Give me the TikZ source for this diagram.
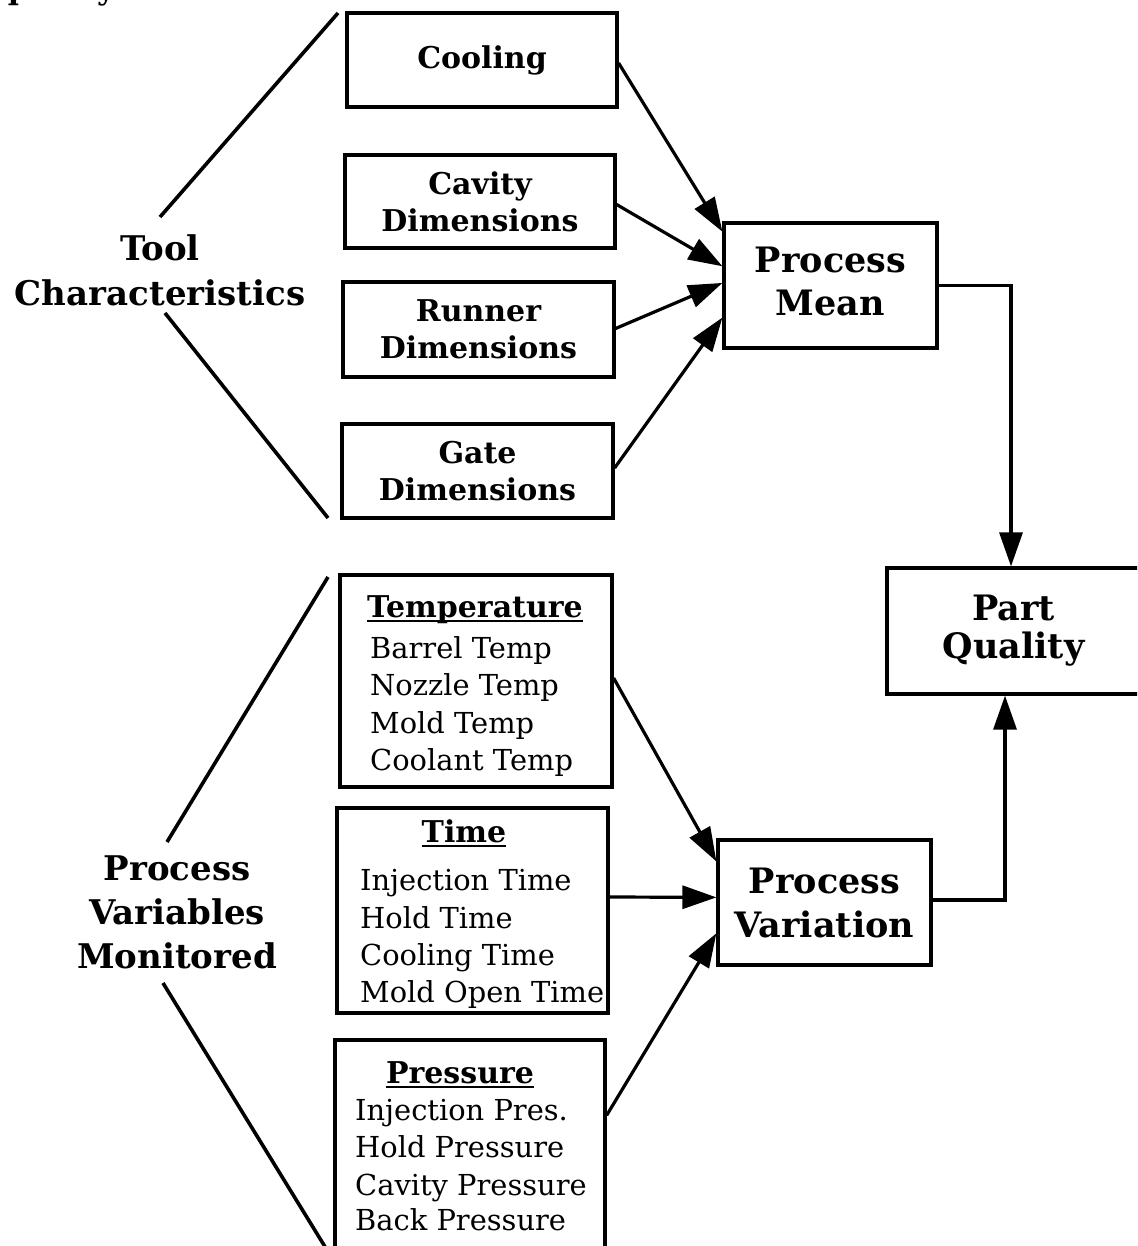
\documentclass[tikz,border=0pt]{standalone}
\usepackage{fontspec}
\setmainfont{DejaVu Serif}
\usetikzlibrary{arrows.meta,calc}
\begin{document}
\begin{tikzpicture}[x=1pt,y=-1pt,
  box/.style={draw,line width=3.2pt,inner sep=0pt,align=center,
    font=\bfseries\fontsize{30}{37}\selectfont},
  bigbox/.style={box,font=\bfseries\fontsize{35}{43}\selectfont},
  bigtxt/.style={inner sep=0pt,align=center,font=\bfseries\fontsize{34}{45}\selectfont},
  hd/.style={anchor=base,inner sep=0pt,font=\bfseries\fontsize{30}{35}\selectfont},
  item/.style={anchor=base west,inner sep=0pt,font=\fontsize{28.9}{35}\selectfont},
  arr/.style={line width=3.2pt,-{Triangle[length=34pt,width=23pt]}},
  brace/.style={line width=3.6pt}]
\useasboundingbox (0,0) rectangle (1137,1246);
\clip (0,0) rectangle (1137,1246);

% fragment of running text
\node[anchor=base west,inner sep=0pt,font=\bfseries\fontsize{30}{35}\selectfont] (frag) at (-2,0) {quality.};

% tool characteristics
\node[box,minimum width=270,minimum height=94] (cool) at (482,60) {Cooling};
\node[box,minimum width=270,minimum height=93] (cav) at (480,201.5) {Cavity\\Dimensions};
\node[box,minimum width=271,minimum height=95] (run) at (478.5,329.5) {Runner\\Dimensions};
\node[box,minimum width=271,minimum height=94] (gate) at (477.5,471) {Gate\\Dimensions};

\node[bigbox,minimum width=213,minimum height=125] (pm) at (830.5,285.5) {Process\\Mean\vphantom{y}};
\node[bigbox,minimum width=253,minimum height=126,font=\bfseries\fontsize{35}{38}\selectfont] (pq) at (1013.5,631) {Part\\Quality\vphantom{\large y}};
\node[bigbox,minimum width=213,minimum height=125,font=\bfseries\fontsize{35}{44}\selectfont] (pv) at (824.5,902.5) {Process\\Variation};

% process variable boxes
\node[box,minimum width=272,minimum height=212] (temp) at (476,681) {};
\node[box,minimum width=271,minimum height=205] (time) at (472.5,910.5) {};
\node[box,minimum width=270,minimum height=240] (pres) at (470,1160) {};

\node[hd] (th) at (475,617) {Temperature};
\node[item] (t1) at (370,658) {Barrel Temp};
\node[item] (t2) at (370,695) {Nozzle Temp};
\node[item] (t3) at (370,733) {Mold Temp};
\node[item] (t4) at (370,770) {Coolant Temp};

\node[hd] (mh) at (464,842) {Time};
\node[item] (m1) at (360,890) {Injection Time};
\node[item] (m2) at (360,928) {Hold Time};
\node[item] (m3) at (360,965) {Cooling Time};
\node[item] (m4) at (360,1002) {Mold Open Time};

\node[hd] (ph) at (460,1083) {Pressure};
\node[item] (p1) at (355,1120) {Injection Pres.};
\node[item] (p2) at (355,1157) {Hold Pressure};
\node[item] (p3) at (355,1195) {Cavity Pressure};
\node[item] (p4) at (355,1230) {Back Pressure};

\foreach \h in {th,mh,ph}
  \draw[line width=2pt] ($(\h.base west)+(0,3.5)$) -- ($(\h.base east)+(0,3.5)$);

% group labels
\node[bigtxt] (tool) at (160,270) {Tool\\Characteristics};
\node[bigtxt,font=\bfseries\fontsize{34}{44}\selectfont] (pvm) at (177,912) {Process\\Variables\\Monitored};

% angle brackets
\coordinate (b1) at (338,13);  \coordinate (b2) at (160,217);
\coordinate (b3) at (165,313); \coordinate (b4) at (328,518);
\coordinate (b5) at (328,577); \coordinate (b6) at (167,842);
\coordinate (b7) at (163,983); \coordinate (b8) at (327,1250);
\draw[brace] (b1) -- (b2);
\draw[brace] (b3) -- (b4);
\draw[brace] (b5) -- (b6);
\draw[brace] (b7) -- (b8);

% arrows into Process Mean
\draw[arr] ($(cool.east)+(0,3)$) -- ($(pm.north west)!0.08!(pm.south west)$);
\draw[arr] ($(cav.east)+(0,3)$) -- ($(pm.north west)!0.35!(pm.south west)$);
\draw[arr] ($(run.east)+(0,-1)$) -- ($(pm.north west)!0.48!(pm.south west)$);
\draw[arr] ($(gate.east)+(0,-3)$) -- ($(pm.north west)!0.75!(pm.south west)$);

% arrows into Process Variation
\draw[arr] ($(temp.east)+(0,-3)$) -- ($(pv.north west)!0.18!(pv.south west)$);
\draw[arr] ($(time.east)+(0,-13.5)$) -- ($(pv.north west)!0.46!(pv.south west)$);
\draw[arr] ($(pres.north east)+(0,77)$) -- ($(pv.north west)!0.74!(pv.south west)$);

% to Part Quality
\coordinate (pqtop) at ($(pq.north)+(-2.5,0)$);
\coordinate (pqbot) at ($(pq.south)+(-8.5,0)$);
\draw[arr] (pm.east) -| (pqtop);
\draw[arr] ($(pv.east)+(0,-2.5)$) -| (pqbot);
\end{tikzpicture}
\end{document}
